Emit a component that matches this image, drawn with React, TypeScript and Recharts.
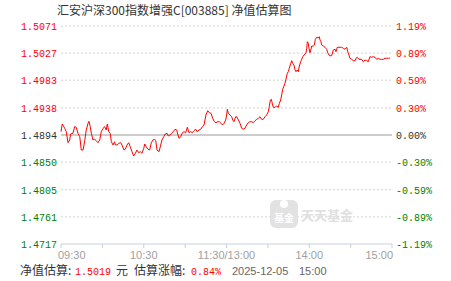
import { LineChart, Line, XAxis, YAxis, ReferenceLine } from "recharts";

// minutes since 09:30 (lunch break removed, 11:30 == 13:00 == 120)
const minutes = [
  0, 0.9, 2.7, 3.8, 5.1, 6.3, 7.0, 8.7, 9.9, 11.1, 12.3, 13.6, 14.7, 16.0, 17.2, 18.3, 19.6, 20.3, 21.2, 22.0,
  23.2, 24.4, 25.6, 26.8, 28.1, 29.2, 30.5, 31.7, 32.8, 33.6, 34.6, 35.7, 36.5, 37.7, 38.9, 39.4, 40.8, 41.8, 43.3, 44.2,
  45.7, 46.6, 47.9, 49.1, 50.2, 51.5, 52.7, 53.9, 55.1, 56.3, 57.5, 58.7, 60.0, 60.7, 61.8, 63.1, 64.3, 65.5, 66.7, 67.9,
  68.7, 69.6, 71.1, 72.3, 73.2, 74.5, 75.6, 76.9, 77.8, 79.0, 80.3, 81.4, 82.7, 83.9, 84.6, 85.6, 86.8, 88.0, 89.2, 90.4,
  91.6, 92.8, 94.0, 95.2, 96.4, 97.7, 98.8, 100.1, 101.3, 102.5, 103.7, 104.4, 105.1, 106.4, 107.5, 108.8, 110.0, 111.2, 112.4, 113.6,
  114.8, 116.0, 117.0, 118.2, 119.4, 120.1, 120.6, 121.3, 122.5, 123.8, 124.5, 125.4, 126.7, 127.4, 128.6, 129.8, 131.0, 132.2, 133.4, 134.6,
  135.8, 137.0, 138.3, 139.4, 140.7, 141.9, 143.1, 144.3, 145.5, 146.7, 147.9, 149.1, 150.3, 151.0, 151.8, 152.5, 153.2, 153.9, 155.2, 156.4,
  157.6, 158.3, 159.3, 160.0, 160.7, 161.7, 162.4, 163.1, 164.1, 164.8, 165.5, 166.6, 167.3, 168.0, 168.9, 169.7, 170.4, 171.3, 172.1, 172.8,
  173.8, 174.5, 175.3, 176.2, 176.9, 177.6, 178.2, 178.6, 179.3, 179.8, 180.5, 181.1, 181.8, 182.9, 183.7, 184.4, 185.4, 186.6, 187.3, 187.8,
  188.5, 189.0, 190.2, 191.4, 192.7, 193.4, 194.5, 195.8, 196.7, 197.4, 198.7, 199.4, 200.3, 202.3, 203.5, 204.7, 205.9, 207.2, 207.9, 208.8,
  209.5, 210.8, 211.9, 213.2, 213.9, 214.8, 216.1, 218.0, 219.2, 220.4, 221.7, 222.8, 224.0, 225.3, 226.4, 227.7, 228.9, 230.1, 231.3, 232.5,
  233.7, 234.9, 236.2, 237.3, 238.5,
];

// estimated net value
const navs = [
  1.48994, 1.49119, 1.49049, 1.48994, 1.48815, 1.48859, 1.48956, 1.48968, 1.49075, 1.49065, 1.48968, 1.48912, 1.48696, 1.48696, 1.48847, 1.49021, 1.4913, 1.49162, 1.49075, 1.48968,
  1.48859, 1.4887, 1.48847, 1.48815, 1.48859, 1.48994, 1.49049, 1.49075, 1.49021, 1.49119, 1.48994, 1.48968, 1.48831, 1.48778, 1.48831, 1.48778, 1.48778, 1.48805, 1.48815, 1.48778,
  1.48696, 1.48708, 1.48778, 1.48815, 1.4875, 1.48669, 1.48599, 1.48643, 1.48696, 1.48653, 1.48669, 1.48643, 1.48724, 1.48794, 1.4875, 1.48708, 1.48696, 1.48815, 1.48859, 1.4887,
  1.48847, 1.48696, 1.48669, 1.48778, 1.48859, 1.48912, 1.48956, 1.48968, 1.48924, 1.4894, 1.48968, 1.48994, 1.49033, 1.49021, 1.48956, 1.48886, 1.48912, 1.48977, 1.48994, 1.48977,
  1.49065, 1.48977, 1.48994, 1.48977, 1.4901, 1.49033, 1.48994, 1.49021, 1.49033, 1.49075, 1.49102, 1.49184, 1.49265, 1.49335, 1.49302, 1.49292, 1.49211, 1.49156, 1.4914, 1.49156,
  1.49156, 1.4913, 1.49102, 1.4913, 1.49184, 1.49265, 1.49357, 1.49292, 1.49265, 1.49237, 1.49184, 1.49156, 1.49237, 1.49237, 1.49184, 1.4913, 1.49049, 1.49033, 1.49049, 1.49102,
  1.4914, 1.49156, 1.49156, 1.4914, 1.49172, 1.49195, 1.49211, 1.49237, 1.49195, 1.49195, 1.49237, 1.49265, 1.49318, 1.494, 1.49508, 1.4952, 1.49455, 1.4939, 1.4939, 1.49411,
  1.4939, 1.49455, 1.49508, 1.4959, 1.49682, 1.49736, 1.4978, 1.49845, 1.49942, 1.49968, 1.50023, 1.50104, 1.50147, 1.50104, 1.50077, 1.49996, 1.49968, 1.49996, 1.49968, 1.5006,
  1.5013, 1.50169, 1.50211, 1.50239, 1.50255, 1.50276, 1.50348, 1.50455, 1.50429, 1.50348, 1.50276, 1.5032, 1.50385, 1.50385, 1.50401, 1.50494, 1.50527, 1.50515, 1.50536, 1.50483,
  1.50455, 1.50401, 1.50385, 1.50364, 1.50332, 1.50276, 1.50234, 1.50223, 1.50255, 1.5032, 1.50332, 1.50293, 1.50364, 1.50364, 1.50364, 1.50348, 1.50332, 1.50364, 1.50293, 1.50239,
  1.50186, 1.50169, 1.50147, 1.50147, 1.50186, 1.50202, 1.50169, 1.50169, 1.5013, 1.50158, 1.50147, 1.5013, 1.50211, 1.50202, 1.50211, 1.50202, 1.50169, 1.50186, 1.50169, 1.50169,
  1.50169, 1.50186, 1.50186, 1.50186, 1.5019,
];

const baseNav = 1.4894;
const navTicks = [1.4717, 1.4761, 1.4805, 1.485, 1.4894, 1.4938, 1.4983, 1.5027, 1.5071];
const navLabels = ["1.4717", "1.4761", "1.4805", "1.4850", "1.4894", "1.4938", "1.4983", "1.5027", "1.5071"];
const pctLabels = ["-1.19%", "-0.89%", "-0.59%", "-0.30%", "0.00%", "0.30%", "0.59%", "0.89%", "1.19%"];
const timeTicks = [0, 30, 60, 90, 120, 150, 180, 210, 240];
const timeLabels: Record<number, string> = { 0: "09:30", 60: "10:30", 120: "11:30/13:00", 180: "14:00", 240: "15:00" };

const data = minutes.map((m, i) => ({ m, nav: navs[i] }));

const MONO = "'Liberation Mono', 'DejaVu Sans Mono', monospace";
const CJK = "'Noto Sans CJK SC', sans-serif";
const SANS = "'Liberation Sans', Arial, sans-serif";

const tickColor = (i: number) => (i > 4 ? "#ff0000" : i === 4 ? "#333333" : "#008000");

// left: net value, right: change in percent (same scale)
const ValueTick = (props: any) => {
  const i = navTicks.indexOf(props.payload.value);
  const c = tickColor(i);
  return (
    <g>
      <text x={57} y={props.y + 4} textAnchor="end" fontSize={10} fontFamily={MONO} fill={c}>
        {navLabels[i]}
      </text>
      <text x={396} y={props.y + 4} textAnchor="start" fontSize={10} fontFamily={MONO} fill={c}>
        {pctLabels[i]}
      </text>
    </g>
  );
};

const TimeTick = (props: any) => {
  const v = props.payload.value;
  const label = timeLabels[v];
  if (!label) return null;
  const anchor = v === 0 ? "start" : v === 240 ? "end" : "middle";
  const x = v === 0 ? props.x - 3 : v === 240 ? props.x + 1 : props.x;
  return (
    <text x={x} y={259} textAnchor={anchor} fontSize={11} fontFamily={SANS} fill="#a0a0a0">
      {label}
    </text>
  );
};

export default function App() {
  return (
    <div style={{ position: "absolute", left: 0, top: 0, width: 451, height: 281, background: "#fff" }}>
      <LineChart width={451} height={281} data={data} margin={{ top: 26, right: 59, bottom: 0, left: 0 }}>
        <XAxis
          dataKey="m"
          type="number"
          domain={[0, 240]}
          ticks={timeTicks}
          interval={0}
          height={37}
          tickSize={4}
          axisLine={{ stroke: "#c6d0dc" }}
          tickLine={{ stroke: "#c6d0dc" }}
          tick={<TimeTick />}
        />
        <YAxis
          domain={[1.4717, 1.5071]}
          ticks={navTicks}
          interval={0}
          width={61}
          axisLine={false}
          tickLine={false}
          tick={<ValueTick />}
        />
        {navTicks
          .filter((t) => t !== baseNav && t !== navTicks[0])
          .map((t) => (
            <ReferenceLine key={t} y={t} stroke="#d2d2d2" strokeDasharray="2 2" />
          ))}
        <ReferenceLine y={baseNav} stroke="#999999" strokeWidth={1} />
        <Line dataKey="nav" stroke="#ff0000" strokeWidth={1} dot={false} isAnimationActive={false} />
      </LineChart>
      <svg width={451} height={281} style={{ position: "absolute", left: 0, top: 0, pointerEvents: "none" }}>
        <text x={57} y={15} fontSize={12} fontFamily={CJK} fill="#333">
          汇安沪深300指数增强C[003885] 净值估算图
        </text>
        <g>
          <rect x={270} y={200} width={28} height={28} rx={6} fill="#e2e2e2" />
          <circle cx={284} cy={204} r={4} fill="#fff" />
          <text x={284} y={222} textAnchor="middle" fontSize={10} fontWeight="bold" fontFamily={CJK} fill="#fff">
            基金
          </text>
          <text x={301} y={220} fontSize={13} fontWeight="bold" fontFamily={CJK} fill="#e0e0e0">
            天天基金
          </text>
        </g>
        <text x={20} y={275} fontSize={12} fontFamily={CJK} fill="#333">净值估算:</text>
        <text x={75} y={275} fontSize={10} fontFamily={MONO} fill="#ff0000">1.5019</text>
        <text x={116} y={275} fontSize={12} fontFamily={CJK} fill="#333">元</text>
        <text x={134} y={275} fontSize={12} fontFamily={CJK} fill="#333">估算涨幅:</text>
        <text x={191} y={275} fontSize={10} fontFamily={MONO} fill="#ff0000">0.84%</text>
        <text x={232} y={275} fontSize={11} fontFamily={SANS} fill="#666">2025-12-05</text>
        <text x={299} y={275} fontSize={11} fontFamily={SANS} fill="#666">15:00</text>
      </svg>
    </div>
  );
}
